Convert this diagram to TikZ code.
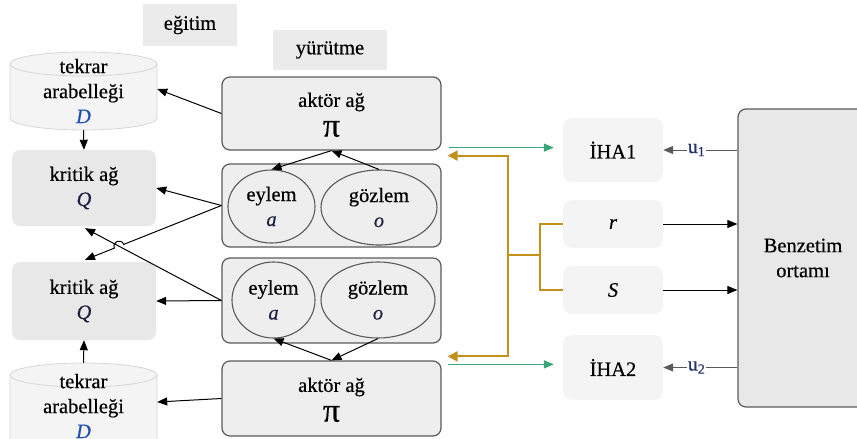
\documentclass[tikz,border=0pt]{standalone}
\usepackage{fontspec}
\setmainfont{Liberation Serif}[FakeBold=0.4]
\usetikzlibrary{arrows.meta,calc,shapes.geometric}
\definecolor{boxgray}{HTML}{EBEBEB}
\definecolor{actfill}{HTML}{EEEEEE}
\definecolor{critfill}{HTML}{E8E8E8}
\definecolor{cylfill}{HTML}{F4F4F4}
\definecolor{cyledge}{HTML}{D6D6D6}
\definecolor{ihafill}{HTML}{F4F4F4}
\definecolor{edgecol}{HTML}{5A5A5A}
\definecolor{grncol}{HTML}{3AA57A}
\definecolor{goldcol}{HTML}{C4901C}
\definecolor{dcol}{HTML}{1F4FB5}
\definecolor{qcol}{HTML}{1E2240}
\definecolor{ucol}{HTML}{203070}
\newcommand{\pibig}{\fontsize{34}{34}\selectfont}
\begin{document}
\begin{tikzpicture}[x=1pt,y=-1pt,
  font=\fontsize{20.5}{25}\selectfont,
  txt/.style={inner sep=0pt, align=center},
  graybox/.style={fill=boxgray, inner sep=0pt, align=center},
  actorbox/.style={draw=edgecol, line width=1.2pt, fill=actfill, rounded corners=8pt, inner sep=0pt},
  critbox/.style={fill=critfill, rounded corners=8pt, inner sep=0pt, align=center},
  ihabox/.style={fill=ihafill, rounded corners=9pt, inner sep=0pt, align=center},
  ell/.style={ellipse, draw=edgecol, line width=1.1pt, fill=actfill, inner sep=0pt, align=center},
  arr/.style={-{Triangle[length=10pt,width=8pt]}, line width=1pt},
  grn/.style={draw=grncol, line width=1.4pt, -{Triangle[length=10pt,width=8pt]}, shorten >=9pt},
  goldline/.style={draw=goldcol, line width=2pt},
  goldarr/.style={draw=goldcol, line width=2pt, -{Triangle[length=10pt,width=10pt,fill=goldcol]}},
  cylshape/.style={fill=cylfill, draw=cyledge, line width=0.8pt},
  ulab/.style={fill=white, inner sep=1pt, font=\fontsize{20}{20}\selectfont, text=ucol}
]
\useasboundingbox (0,0) rectangle (857,439);

% labels
\node[graybox, minimum width=94pt, minimum height=42pt] (egitim) at (190,25) {eğitim};
\node[graybox, minimum width=114pt, minimum height=40pt] (yurutme) at (330,50) {yürütme};

% cylinders
\path[cylshape] (10,64) -- (10,118) arc[start angle=180,end angle=360,x radius=73.5pt,y radius=12pt]
  -- (157,64) arc[start angle=0,end angle=180,x radius=73.5pt,y radius=12pt] -- cycle;
\draw[cyledge, line width=0.8pt] (10,64) arc[start angle=180,end angle=360,x radius=73.5pt,y radius=12pt];
\node[txt, minimum width=147pt, minimum height=78pt] (cyl1) at (83.5,91) {tekrar\\arabelleği\\\textcolor{dcol}{\textit{D}}};

\path[cylshape] (10,375) -- (10,470) -- (157,470)
  -- (157,375) arc[start angle=0,end angle=180,x radius=73.5pt,y radius=12pt] -- cycle;
\draw[cyledge, line width=0.8pt] (10,375) arc[start angle=180,end angle=360,x radius=73.5pt,y radius=12pt];
\node[txt, minimum width=147pt, minimum height=86pt] (cyl2) at (83.5,406) {tekrar\\arabelleği\\\textcolor{dcol}{\textit{D}}};

% critics
\node[critbox, minimum width=144pt, minimum height=76pt] (crit1) at (84,188) {kritik ağ\\\textcolor{qcol}{\textit{Q}}};
\node[critbox, minimum width=144pt, minimum height=78pt] (crit2) at (84,301) {kritik ağ\\\textcolor{qcol}{\textit{Q}}};

% actors
\node[actorbox, minimum width=219pt, minimum height=73pt] (act1) at (331.5,113.5) {};
\node[txt] (act1t) at (331.5,102) {aktör ağ};
\node[txt, font=\pibig] (act1p) at (331.5,129) {π};

\node[actorbox, minimum width=219pt, minimum height=75pt] (act2) at (331.5,398.5) {};
\node[txt] (act2t) at (331.5,387) {aktör ağ};
\node[txt, font=\pibig] (act2p) at (331.5,414) {π};

% groups
\node[actorbox, minimum width=219pt, minimum height=83pt] (grp1) at (331.5,205.5) {};
\node[ell, minimum width=87pt, minimum height=73pt] (ey1) at (271.5,206.5) {eylem\\\textcolor{qcol}{\textit{a}}};
\node[ell, minimum width=116pt, minimum height=75pt] (gz1) at (379,207.5) {gözlem\\\textcolor{qcol}{\textit{o}}};

\node[actorbox, minimum width=219pt, minimum height=85pt] (grp2) at (331.5,300.5) {};
\node[ell, minimum width=83pt, minimum height=76pt] (ey2) at (273.5,300) {eylem\\\textcolor{qcol}{\textit{a}}};
\node[ell, minimum width=114pt, minimum height=76pt] (gz2) at (378,300) {gözlem\\\textcolor{qcol}{\textit{o}}};

% right side
\node[ihabox, minimum width=100pt, minimum height=64pt] (iha1) at (613,150) {İHA1};
\node[ihabox, minimum width=100pt, minimum height=48pt] (rr) at (613,224) {\textit{r}};
\node[ihabox, minimum width=100pt, minimum height=48pt] (ss) at (613,290) {\textit{S}};
\node[ihabox, minimum width=100pt, minimum height=65pt] (iha2) at (613,367.5) {İHA2};
\node[draw=edgecol, line width=1.2pt, fill=critfill, rounded corners=8pt, minimum width=130pt, minimum height=298pt, align=center, inner sep=0pt] (benz) at (803,258) {Benzetim\\ortamı};

% left connectors
\coordinate (c1in) at ($(crit1.south)+(1,2)$);
\coordinate (c2in) at ($(crit2.north)+(1,-2)$);
\draw[arr] (act1.west) -- ($(cyl1.east)+(0,-2)$);
\draw[arr] (cyl1.south) -- (crit1.north);
\draw[arr] (grp1.west) -- (crit1.east);
\draw[arr] (grp2.west) -- (c1in);
\coordinate (X) at (intersection of grp1.west--c2in and grp2.west--c1in);
\coordinate (h1) at ($(X)!5pt!(grp1.west)$);
\coordinate (h2) at ($(X)!5pt!(c2in)$);
\draw[arr] (grp1.west) -- (h1) .. controls ($(h1)!7pt!-90:(X)$) and ($(h2)!7pt!90:(X)$) .. (h2) -- (c2in);
\draw[arr] (grp2.west) -- (crit2.east);
\draw[arr] (cyl2.north) -- (crit2.south);
\draw[arr] (act2.west) -- ($(cyl2.east)+(0,-4)$);

% actor <-> ellipses
\draw[arr] (act1.south) -- (ey1.north);
\draw[arr] (gz1.north) -- (act1.south);
\draw[arr] (act2.north) -- (ey2.south);
\draw[arr] (gz2.south) -- (act2.north);

% green and gold
\coordinate (g1s) at ($(act1.south east)+(7,-3)$);
\coordinate (g2s) at ($(act2.north east)+(6,4)$);
\coordinate (go1) at ($(act1.south east)+(6,5)$);
\coordinate (go2) at ($(act2.north east)+(6,-4)$);
\coordinate (gj) at (508,255);
\coordinate (gm) at (540,255);
\draw[grn] (g1s) -- (g1s -| iha1.west);
\draw[grn] (g2s) -- (g2s -| iha2.west);
\draw[goldarr] (gj) |- (go1);
\draw[goldarr] (gj) |- (go2);
\draw[goldline] (gj) -- (gm);
\draw[goldline] (rr.west) -| (gm) |- (ss.west);

% benzetim connectors
\draw[arr, draw=edgecol] (benz.west |- iha1.east) -- node[ulab, pos=0.55] {u\textsubscript{1}} (iha1.east);
\draw[arr, draw=edgecol] (benz.west |- iha2.east) -- node[ulab, pos=0.55] {u\textsubscript{2}} (iha2.east);
\draw[arr] (rr.east) -- (rr.east -| benz.west);
\draw[arr] (ss.east) -- (ss.east -| benz.west);
\end{tikzpicture}
\end{document}
